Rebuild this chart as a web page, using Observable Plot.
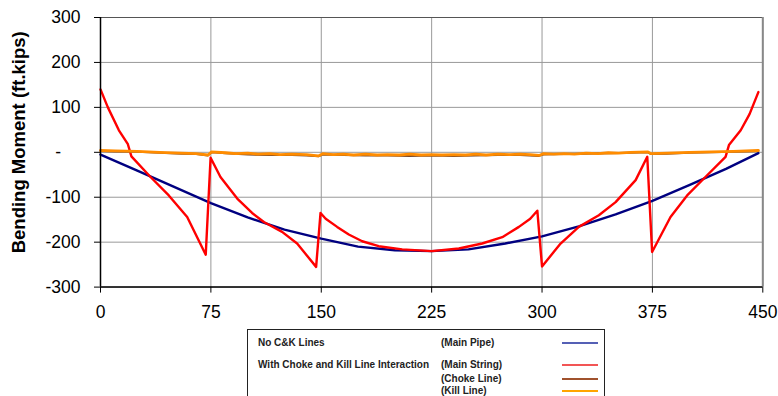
<!DOCTYPE html>
<html>
<head>
<meta charset="utf-8">
<script src="https://cdn.jsdelivr.net/npm/d3@7"></script>
<script src="https://cdn.jsdelivr.net/npm/@observablehq/plot@0.6"></script>
<style>
  html, body { margin: 0; padding: 0; background: #fff; }
  #wrap { position: relative; width: 778px; height: 396px; overflow: hidden; font-family: "Liberation Sans", Arial, sans-serif; }
  #legend { position: absolute; left: 247px; top: 329px; width: 358px; height: 90px; border: 1.5px solid #222; background: #fff; box-sizing: border-box; }
  .lt { position: absolute; font-size: 10px; font-weight: bold; color: #222; white-space: nowrap; line-height: 12px; }
  .ll { position: absolute; height: 2px; width: 36px; }
</style>
</head>
<body>
<div id="wrap"><div id="chart"></div><div id="legend"></div></div>
<script>
// ---- data ----
const xTicks = [0, 75, 150, 225, 300, 375, 450];
const yTicks = [-300, -200, -100, 0, 100, 200, 300];

// No C&K Lines (Main Pipe)
const pipeX = [0, 25, 50, 75, 100, 125, 150, 175, 200, 225, 250, 275, 300, 325, 350, 375, 400, 425, 447];
const pipeY = [-5, -41, -77, -113, -145, -172, -192, -210, -218, -220, -216, -203, -187, -165, -138, -108, -73, -37, -2];

// With Choke and Kill Line Interaction (Main String)
const stringX = [0, 5, 12.5, 18.6, 21, 34, 46.4, 58.9, 71.5, 74.8, 81.5, 92.9, 103, 111, 123.4, 133.6, 146.5, 149.5, 153, 160.8, 168.7, 177.8, 189, 205, 225, 243.5, 259.3, 273, 284.3, 292, 296.8, 300, 312.6, 325, 338.6, 350, 363.6, 371.5, 374.8, 387.3, 398.6, 411, 424.7, 427, 435, 441, 447];
const stringY = [140, 100, 49, 18, -9, -55, -96, -144, -228, -12, -55, -103, -135, -155, -177, -203, -255, -135, -148, -166, -183, -198, -209, -216, -220, -214, -203, -189, -166, -148, -130, -254, -203, -166, -140, -111, -62, -10, -222, -144, -96, -55, -10, 16, 49, 85, 134];

// (Choke Line)
const chokeX = [0, 10, 25, 40, 55, 65, 73, 75.5, 85, 100, 115, 130, 140, 148, 151, 165, 180, 195, 210, 225, 240, 255, 270, 285, 298, 301, 315, 330, 345, 360, 372, 374, 385, 400, 415, 430, 447];
const chokeY = [3, 2, 1, -1, -3, -4, -7, 0, -2, -5, -6, -6, -7, -9, -5, -6, -7, -7, -8, -7, -8, -7, -6, -6, -8, -5, -4, -3, -2, -1, 0, -4, -3, -1, 0, 1, 3];

// (Kill Line)
const killX = [0, 10, 25, 40, 55, 65, 73, 75.5, 85, 92, 100, 107, 115, 122, 130, 140, 148, 151, 158, 165, 172, 180, 188, 195, 203, 210, 218, 225, 232, 240, 248, 255, 262, 270, 278, 285, 292, 298, 301, 308, 315, 322, 330, 338, 345, 352, 360, 372, 374, 385, 400, 415, 430, 447];
const killY = [4, 3, 2, 0, -2, -3, -6, 1, -1, -3, -2, -4, -3, -5, -4, -5, -8, -3, -5, -4, -6, -4, -6, -5, -6, -4, -6, -5, -6, -5, -6, -4, -6, -4, -5, -4, -5, -7, -3, -4, -3, -4, -2, -3, -1, -2, 0, 1, -3, -2, 0, 1, 2, 4];

const seriesColor = { pipe: "#000080", string: "#ff0000", choke: "#7a4a2a", kill: "#ff8c00" };

const toRows = (xs, ys) => xs.map((x, i) => ({ x, y: ys[i] }));
const pipe = toRows(pipeX, pipeY);
const mainString = toRows(stringX, stringY);
const choke = toRows(chokeX, chokeY);
const kill = toRows(killX, killY);

const chart = Plot.plot({
  width: 778,
  height: 328,
  marginLeft: 100,
  marginRight: 15.7,
  marginTop: 17,
  marginBottom: 41.4,
  style: { fontFamily: "'Liberation Sans', Arial, sans-serif", fontSize: "17.5px", color: "#000", background: "#fff", overflow: "visible" },
  x: { domain: [0, 450] },
  y: { domain: [-300, 300] },
  marks: [
    Plot.gridX(xTicks, { stroke: "#999", strokeOpacity: 1 }),
    Plot.gridY(yTicks, { stroke: "#999", strokeOpacity: 1 }),
    Plot.ruleY([300], { stroke: "#555" }),
    Plot.ruleX([450], { stroke: "#888", strokeWidth: 2 }),
    Plot.axisX(xTicks, { tickSize: 6, tickPadding: 12, label: null, fontSize: 17.5 }),
    Plot.axisY(yTicks, { tickSize: 6, tickPadding: 14, label: null, fontSize: 17.5,
      tickFormat: d => d === 0 ? "-\u2007\u2007" : String(d) }),
    Plot.line(pipe, { x: "x", y: "y", stroke: seriesColor.pipe, strokeWidth: 2.4 }),
    Plot.line(mainString, { x: "x", y: "y", stroke: seriesColor.string, strokeWidth: 2.4 }),
    Plot.line(choke, { x: "x", y: "y", stroke: seriesColor.choke, strokeWidth: 2 }),
    Plot.line(kill, { x: "x", y: "y", stroke: seriesColor.kill, strokeWidth: 2.8 }),
    Plot.ruleX([0], { stroke: "#000", strokeWidth: 1.5 }),
    Plot.ruleY([-300], { stroke: "#000", strokeWidth: 1.5 }),
    Plot.text(["Bending Moment (ft.kips)"], { frameAnchor: "left", textAnchor: "middle", dx: -81, dy: -10, rotate: -90,
      fontSize: 18.5, fontWeight: "bold", fill: "#000" })
  ]
});
document.getElementById("chart").appendChild(chart);

// ---- legend (HTML, below the SVG) ----
const legendRows = [
  { left: "No C&K Lines", right: "(Main Pipe)", color: "#5560b5", y: 342 },
  { left: "With Choke and Kill Line Interaction", right: "(Main String)", color: "#f25555", y: 364 },
  { left: "", right: "(Choke Line)", color: "#a0522d", y: 377.5 },
  { left: "", right: "(Kill Line)", color: "#ffa500", y: 390 }
];
const legend = document.getElementById("legend");
const L0 = 247, T0 = 329;
legendRows.forEach(r => {
  if (r.left) {
    const a = document.createElement("div");
    a.className = "lt"; a.textContent = r.left;
    a.style.left = (257 - L0) + "px"; a.style.top = (r.y - 6 - T0) + "px";
    legend.appendChild(a);
  }
  const b = document.createElement("div");
  b.className = "lt"; b.textContent = r.right;
  b.style.left = (440 - L0) + "px"; b.style.top = (r.y - 6 - T0) + "px";
  legend.appendChild(b);
  const l = document.createElement("div");
  l.className = "ll"; l.style.background = r.color;
  l.style.left = (561 - L0) + "px"; l.style.top = (r.y - 1 - T0) + "px";
  legend.appendChild(l);
});
</script>
</body>
</html>
